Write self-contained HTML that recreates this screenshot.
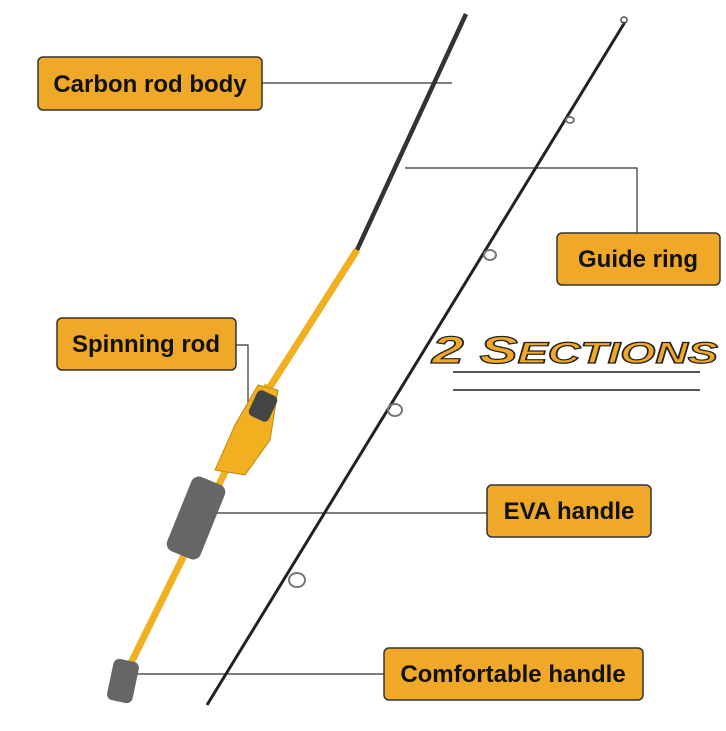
<!DOCTYPE html>
<html><head><style>
body{margin:0;background:#fff;width:726px;height:726px;overflow:hidden}
</style></head><body>
<svg width="726" height="726" viewBox="0 0 726 726" xmlns="http://www.w3.org/2000/svg">
<g stroke="#333" stroke-width="1.2" fill="none">
<polyline points="262,83 452,83"/>
<polyline points="405,168 637,168 637,233"/>
<polyline points="236,345 248,345 248,440"/>
<polyline points="215,513 487,513"/>
<polyline points="122,674 384,674"/>
<line x1="453" y1="372" x2="700" y2="372" stroke="#555" stroke-width="2"/>
<line x1="453" y1="390" x2="700" y2="390" stroke="#555" stroke-width="2"/>
</g>
<!-- rod 2 -->
<line x1="625" y1="22" x2="207" y2="705" stroke="#222" stroke-width="3"/>
<circle cx="624" cy="20" r="3" fill="none" stroke="#555" stroke-width="1.5"/>
<g fill="none" stroke="#777" stroke-width="2">
<ellipse cx="570" cy="120" rx="4" ry="3"/>
<ellipse cx="490" cy="255" rx="6" ry="5"/>
<ellipse cx="395" cy="410" rx="7" ry="6"/>
<ellipse cx="297" cy="580" rx="8" ry="7"/>
</g>
<!-- rod 1 -->
<line x1="466" y1="14" x2="357" y2="250" stroke="#333" stroke-width="4.5"/>
<line x1="357" y1="250" x2="268" y2="390" stroke="#f0b020" stroke-width="7"/>
<line x1="268" y1="385" x2="130" y2="665" stroke="#f0b020" stroke-width="7"/>
<path d="M258,385 L278,390 L270,440 L245,475 L215,470 L235,425 Z" fill="#f0b020" stroke="#c08810"/>
<rect x="252" y="392" width="22" height="28" rx="5" fill="#444" transform="rotate(25 263 406)"/>
<rect x="178" y="478" width="36" height="80" rx="8" fill="#666" transform="rotate(22 196 518)"/>
<rect x="110" y="660" width="26" height="42" rx="6" fill="#666" transform="rotate(12 123 681)"/>
<!-- labels -->
<g font-family="Liberation Sans, sans-serif" font-size="24" font-weight="bold" fill="#111">
<rect x="38" y="57" width="224" height="53" rx="5" fill="#f0a828" stroke="#333" stroke-width="1.5"/>
<text x="150" y="92" text-anchor="middle">Carbon  rod body</text>
<rect x="557" y="233" width="163" height="52" rx="5" fill="#f0a828" stroke="#333" stroke-width="1.5"/>
<text x="638" y="267" text-anchor="middle">Guide ring</text>
<rect x="57" y="318" width="179" height="52" rx="5" fill="#f0a828" stroke="#333" stroke-width="1.5"/>
<text x="146" y="352" text-anchor="middle">Spinning rod</text>
<rect x="487" y="485" width="164" height="52" rx="5" fill="#f0a828" stroke="#333" stroke-width="1.5"/>
<text x="569" y="519" text-anchor="middle">EVA handle</text>
<rect x="384" y="648" width="259" height="52" rx="5" fill="#f0a828" stroke="#333" stroke-width="1.5"/>
<text x="513" y="682" text-anchor="middle">Comfortable handle</text>
</g>
<text x="432" y="363" font-family="Liberation Sans, sans-serif" font-style="italic" font-weight="bold" font-size="38" fill="#f0a828" stroke="#222" stroke-width="1.2" textLength="286" lengthAdjust="spacingAndGlyphs">2 S<tspan font-size="30">ECTIONS</tspan></text>
</svg>
</body></html>
